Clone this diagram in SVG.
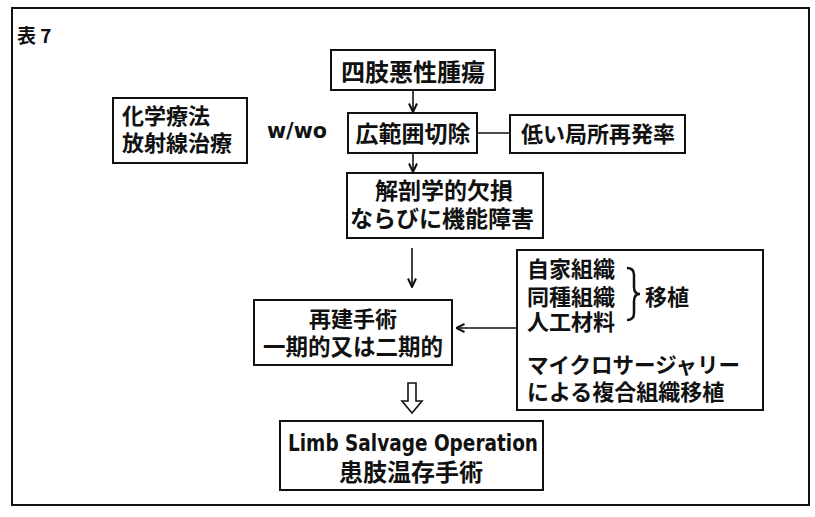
<svg xmlns="http://www.w3.org/2000/svg" width="815" height="517" viewBox="0 0 815 517">
<defs>
<style>
.box{fill:#fff;stroke:#111;stroke-width:2}
.jp{font-family:"Noto Sans CJK JP","Noto Sans CJK SC",sans-serif;font-weight:bold;fill:#111}
.lat{font-family:"DejaVu Sans","Liberation Sans",sans-serif;font-weight:bold;fill:#111}
.con{stroke:#111;stroke-width:1.6;fill:none}
</style>
<marker id="ah" viewBox="0 0 10 10" refX="9.5" refY="5" markerWidth="10" markerHeight="10" orient="auto" markerUnits="userSpaceOnUse">
<path d="M1,1 L9.5,5 L1,9" fill="none" stroke="#111" stroke-width="2"/>
</marker>
</defs>
<rect x="0" y="0" width="815" height="517" fill="#fff"/>
<rect x="12" y="8" width="797" height="497" fill="none" stroke="#111" stroke-width="2"/>
<text x="17" y="43" class="jp" font-size="19">表 7</text>

<g id="connectors">
<line class="con" x1="413" y1="90" x2="413" y2="112" marker-end="url(#ah)"/>
<line class="con" x1="413" y1="153" x2="413" y2="172" marker-end="url(#ah)"/>
<line class="con" x1="477" y1="133" x2="510" y2="133"/>
<line class="con" x1="412" y1="248" x2="412" y2="287" marker-end="url(#ah)"/>
<line class="con" x1="516" y1="328" x2="456" y2="328" marker-end="url(#ah)"/>
<path d="M408,383 L416,383 L416,401 L422,401 L412,413 L402,401 L408,401 Z" fill="#fff" stroke="#111" stroke-width="1.6"/>
</g>

<g id="n1">
<rect class="box" x="331" y="50" width="164" height="40"/>
<text class="jp" x="413" y="81" font-size="24" text-anchor="middle">四肢悪性腫瘍</text>
</g>
<g id="n2">
<rect class="box" x="348" y="113" width="129" height="40"/>
<text class="jp" x="413" y="142" font-size="23" text-anchor="middle">広範囲切除</text>
</g>
<g id="n3">
<rect class="box" x="510" y="115" width="175" height="38"/>
<text class="jp" x="598" y="142" font-size="22" text-anchor="middle">低い局所再発率</text>
</g>
<g id="n4">
<rect class="box" x="113" y="98" width="134" height="65"/>
<text class="jp" x="122" y="124" font-size="22">化学療法</text>
<text class="jp" x="122" y="151" font-size="22">放射線治療</text>
</g>
<text class="lat" x="267" y="138" font-size="21" textLength="60" lengthAdjust="spacingAndGlyphs">w/wo</text>
<g id="n5">
<rect class="box" x="347" y="173" width="196" height="65"/>
<text class="jp" x="444" y="199" font-size="23" text-anchor="middle">解剖学的欠損</text>
<text class="jp" x="442" y="227" font-size="23" text-anchor="middle">ならびに機能障害</text>
</g>
<g id="n6">
<rect class="box" x="254" y="300" width="198" height="65"/>
<text class="jp" x="353" y="327" font-size="22" text-anchor="middle">再建手術</text>
<text class="jp" x="353" y="355" font-size="22.5" text-anchor="middle">一期的又は二期的</text>
</g>
<g id="n7">
<rect class="box" x="517" y="250" width="246" height="160"/>
<text class="jp" x="527" y="277" font-size="22">自家組織</text>
<text class="jp" x="527" y="305" font-size="22">同種組織</text>
<text class="jp" x="527" y="330" font-size="22">人工材料</text>
<path d="M627,268 Q634,268 634,275 L634,287 Q634,294 640,294 Q634,294 634,301 L634,313 Q634,320 627,320" fill="none" stroke="#111" stroke-width="2.5"/>
<text class="jp" x="645" y="305" font-size="22">移植</text>
<text class="jp" x="527" y="373" font-size="21.5">マイクロサージャリー</text>
<text class="jp" x="527" y="400" font-size="22">による複合組織移植</text>
</g>
<g id="n8">
<rect class="box" x="280" y="421" width="263" height="69"/>
<text class="lat" x="288" y="451" font-size="23" textLength="250" lengthAdjust="spacingAndGlyphs">Limb Salvage Operation</text>
<text class="jp" x="411" y="481" font-size="24" text-anchor="middle">患肢温存手術</text>
</g>
</svg>
